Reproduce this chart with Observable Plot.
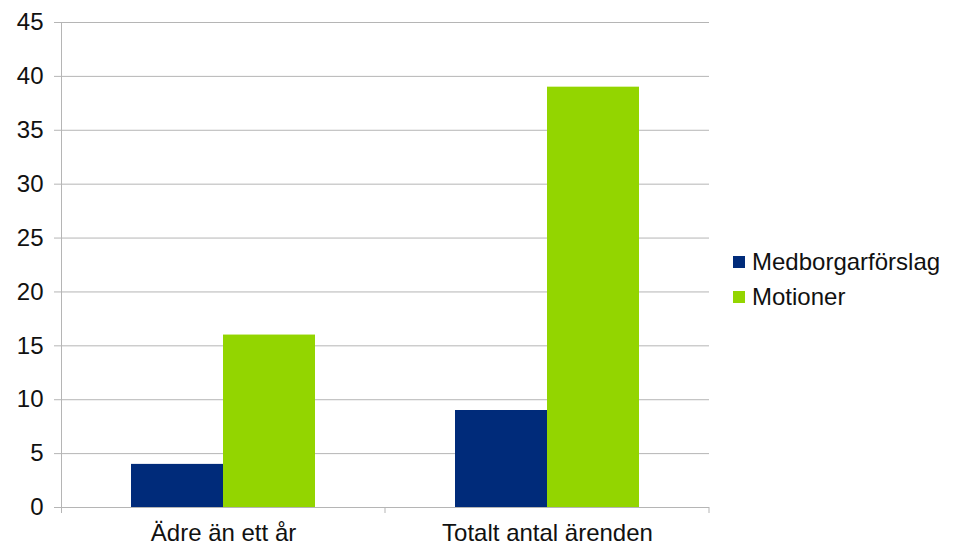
<!DOCTYPE html>
<html>
<head>
<meta charset="utf-8">
<script src="https://cdn.jsdelivr.net/npm/d3@7"></script>
<script src="https://cdn.jsdelivr.net/npm/@observablehq/plot@0.6"></script>
<style>
  html, body { margin: 0; padding: 0; background: #fff; }
  #wrap { position: relative; width: 957px; height: 546px; font-family: "Liberation Sans", Arial, sans-serif; }
  #legend { position: absolute; left: 733px; top: 244px; font-size: 24px; color: #111; }
  .item { display: flex; align-items: center; height: 35px; }
  .sw { width: 12px; height: 12px; margin-right: 7px; }
</style>
</head>
<body>
<div id="wrap"></div>
<script>
const categories = ["Ädre än ett år", "Totalt antal ärenden"];
const series = ["Medborgarförslag", "Motioner"];
const medborgarforslag = [4, 9];
const motioner = [16, 39];
const colors = ["#002B7A", "#93D500"];
const yTicks = [0, 5, 10, 15, 20, 25, 30, 35, 40, 45];

const data = [];
categories.forEach((c, i) => {
  data.push({category: c, series: series[0], value: medborgarforslag[i]});
  data.push({category: c, series: series[1], value: motioner[i]});
});

const gridColor = "#b5b5b5";

const plot = Plot.plot({
  width: 957,
  height: 546,
  marginLeft: 60,
  marginRight: 248,
  marginTop: 22,
  marginBottom: 39,
  style: {fontFamily: "Liberation Sans, Arial, sans-serif", fontSize: "24px", color: "#111", background: "#fff"},
  fx: {domain: categories, padding: 0, label: null, axis: null},
  x: {domain: series, paddingInner: 0, paddingOuter: 0.757, axis: null},
  y: {domain: [0, 45], ticks: yTicks, label: null, axis: null},
  color: {domain: series, range: colors},
  marks: [
    Plot.ruleY(yTicks, {stroke: gridColor, strokeWidth: 1}),
    Plot.axisY({ticks: yTicks, tickSize: 7, tickPadding: 11, stroke: gridColor, label: null, fontSize: 24}),
    Plot.axisFx({anchor: "bottom", tickSize: 0, tickPadding: 16, label: null, fontSize: 24}),
    Plot.barY(data, {fx: "category", x: "series", y: "value", fill: "series", inset: 0})
  ]
});

document.getElementById("wrap").appendChild(plot);

// axis lines and boundary ticks from the library's scales
const fx = plot.scale("fx");
const y = plot.scale("y");
const svg = d3.select(plot);
const y0 = y.apply(0), yTop = y.apply(45);
const bounds = [fx.apply(categories[0]), ...categories.map(c => fx.apply(c) + fx.bandwidth)];
const g = svg.append("g").attr("stroke", gridColor).attr("stroke-width", 1);
g.append("line").attr("x1", bounds[0] + 0.5).attr("x2", bounds[0] + 0.5).attr("y1", yTop).attr("y2", y0 + 6);
bounds.slice(1).forEach(b => {
  g.append("line").attr("x1", b).attr("x2", b).attr("y1", y0).attr("y2", y0 + 6);
});

// legend
const legend = d3.select("#wrap").append("div").attr("id", "legend");
series.forEach((s, i) => {
  const it = legend.append("div").attr("class", "item");
  it.append("div").attr("class", "sw").style("background", colors[i]);
  it.append("span").text(s);
});
</script>
</body>
</html>
